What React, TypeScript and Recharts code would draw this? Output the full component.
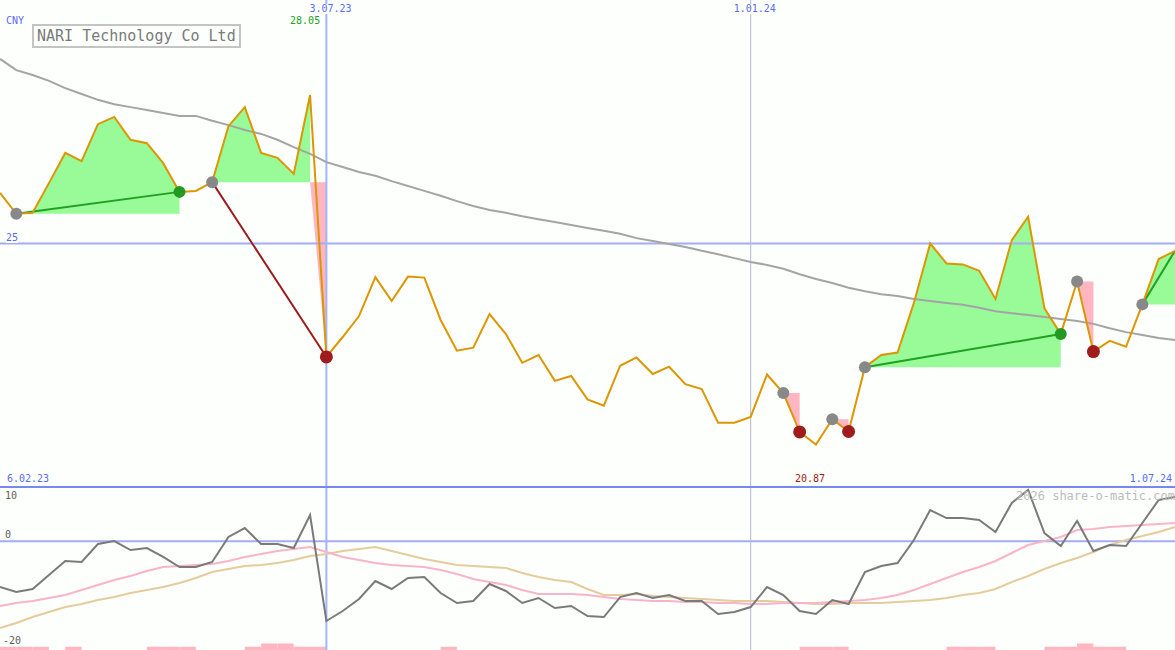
import { Area, Bar, ComposedChart, Line, ReferenceLine, XAxis, YAxis } from 'recharts';

// weekly closes, CNY
const price = [
  26.04, 25.61, 25.63, 26.24, 26.86, 26.69, 27.45, 27.6, 27.13, 27.06,
  26.65, 26.06, 26.08, 26.26, 27.41, 27.8, 26.86, 26.76, 26.43, 28.05,
  22.67, 23.08, 23.51, 24.31, 23.82, 24.32, 24.3, 23.43, 22.8, 22.86,
  23.55, 23.14, 22.55, 22.71, 22.18, 22.28, 21.8, 21.67, 22.49, 22.66,
  22.32, 22.47, 22.11, 22.01, 21.32, 21.32, 21.44, 22.31, 21.93, 21.13,
  20.87, 21.39, 21.14, 22.46, 22.71, 22.76, 23.78, 25.0, 24.59, 24.57,
  24.44, 23.86, 25.07, 25.55, 23.67, 23.14, 24.22, 22.78, 23.0, 22.88,
  23.75, 24.68, 24.85,
];

// long moving average
const average = [
  28.79, 28.56, 28.46, 28.34, 28.19, 28.07, 27.95, 27.86, 27.8, 27.74,
  27.68, 27.62, 27.62, 27.52, 27.43, 27.33, 27.25, 27.13, 26.98, 26.84,
  26.67, 26.57, 26.47, 26.39, 26.28, 26.18, 26.08, 25.98, 25.87, 25.77,
  25.69, 25.63, 25.56, 25.5, 25.44, 25.38, 25.32, 25.26, 25.2, 25.11,
  25.05, 24.99, 24.93, 24.85, 24.78, 24.7, 24.62, 24.56, 24.48, 24.37,
  24.27, 24.19, 24.09, 24.02, 23.96, 23.92, 23.86, 23.82, 23.78, 23.74,
  23.68, 23.61, 23.57, 23.53, 23.49, 23.45, 23.41, 23.35, 23.26, 23.18,
  23.12, 23.06, 23.02,
];

// lower panel
const oscillator = [
  -8.41, -9.33, -8.77, -6.2, -3.62, -3.8, -0.49, 0.06, -1.6, -1.23,
  -2.88, -4.72, -4.72, -3.8, 0.8, 2.45, -0.49, -0.49, -1.23, 4.85,
  -14.66, -12.82, -10.61, -7.3, -8.77, -6.75, -6.57, -9.51, -11.35, -10.98,
  -7.85, -9.14, -11.35, -10.43, -12.27, -11.9, -13.74, -13.93, -10.25, -9.51,
  -10.43, -9.88, -10.98, -10.98, -13.38, -13.01, -12.09, -8.41, -9.88, -12.82,
  -13.38, -10.8, -11.54, -5.65, -4.54, -3.99, 0.25, 5.77, 4.29, 4.29,
  3.93, 1.72, 7.06, 9.45, 1.53, -0.86, 3.74, -1.78, -0.68, -0.86,
  3.37, 7.61, 8.16,
];

const signalFast = [
  -11.9, -11.35, -10.98, -10.43, -9.88, -8.96, -8.04, -7.12, -6.38, -5.46,
  -4.72, -4.54, -4.36, -4.17, -3.62, -2.88, -2.33, -1.78, -1.41, -1.04,
  -1.96, -2.88, -3.44, -3.99, -4.36, -4.54, -4.72, -5.28, -6.01, -6.93,
  -7.49, -8.04, -8.96, -9.7, -9.7, -9.7, -9.88, -10.25, -10.61, -10.8,
  -10.98, -10.98, -11.17, -11.17, -11.35, -11.35, -11.54, -11.54, -11.35, -11.35,
  -11.35, -11.17, -10.98, -10.8, -10.43, -9.88, -8.96, -7.85, -6.75, -5.65,
  -4.72, -3.62, -2.15, -0.68, 0.06, 0.8, 2.09, 2.27, 2.64, 2.82,
  3.01, 3.19, 3.37,
];

const signalSlow = [
  -15.95, -15.03, -13.93, -13.01, -12.09, -11.54, -10.8, -10.25, -9.51, -8.96,
  -8.41, -7.67, -6.75, -5.65, -5.09, -4.54, -4.36, -3.99, -3.44, -2.7,
  -2.33, -1.78, -1.41, -1.04, -1.78, -2.52, -3.25, -3.8, -4.36, -4.54,
  -4.72, -4.91, -5.83, -6.57, -7.12, -7.49, -8.77, -9.88, -9.88, -9.7,
  -10.06, -10.25, -10.43, -10.61, -10.8, -10.98, -10.98, -10.98, -11.17, -11.35,
  -11.54, -11.54, -11.35, -11.35, -11.35, -11.17, -10.98, -10.8, -10.43, -9.88,
  -9.51, -8.77, -7.49, -6.38, -5.09, -3.99, -3.07, -1.96, -0.68, 0.24,
  0.98, 1.72, 2.64,
];

const flagWeeks = [0, 1, 2, 4, 9, 10, 11, 15, 16, 17, 18, 19, 27, 49, 50, 51, 58, 59, 60, 64, 65, 66, 67, 68];
const flagTall = [16, 17, 66];

// open / close week of each signalled trade
const trades = [
  { open: 1, close: 11, live: false },
  { open: 13, close: 20, live: false },
  { open: 48, close: 49, live: false },
  { open: 51, close: 52, live: false },
  { open: 53, close: 65, live: false },
  { open: 66, close: 67, live: false },
  { open: 70, close: 72, live: true },
];

const dateMarks = [
  { week: 20, label: '3.07.23' },
  { week: 46, label: '1.01.24' },
];

const W = 1175;
const TOP_H = 487;
const BOT_H = 163;
const LAST = price.length - 1;
const BG = '#fcfffc';
const MONO = '"DejaVu Sans Mono", monospace';
const BLUE_TEXT = '#5c6cf0';

const xOf = (i: number) => (i * W) / LAST;

const rows: Record<string, any>[] = price.map((p, i) => ({
  i,
  price: p,
  average: average[i],
  oscillator: oscillator[i],
  fast: signalFast[i],
  slow: signalSlow[i],
  flag: flagWeeks.includes(i) ? (flagTall.includes(i) ? 2 : 1) : null,
  gain: null,
  loss: null,
}));

trades.forEach((t, k) => {
  const entry = price[t.open];
  const won = price[t.close] >= entry;
  const lastUp = won ? t.close : t.close - 1;
  if (lastUp > t.open) {
    for (let i = t.open; i <= lastUp; i++) rows[i].gain = [entry, Math.max(price[i], entry)];
  }
  if (!won) {
    for (let i = t.close - 1; i <= t.close; i++) rows[i].loss = [Math.min(price[i], entry), entry];
  }
  rows[t.open].entryMark = entry;
  if (!t.live) rows[t.close][won ? 'winMark' : 'lossMark'] = price[t.close];
  if (t.close - t.open > 1) {
    rows[t.open][`trade${k}`] = entry;
    rows[t.close][`trade${k}`] = price[t.close];
  }
});

const maxIdx = price.indexOf(Math.max(...price));
const minIdx = price.indexOf(Math.min(...price));

const Label = ({ text, left, top, color, size = 10, right }: any) => (
  <div
    style={{
      position: 'absolute',
      left,
      right,
      top,
      color,
      fontSize: size,
      lineHeight: 1,
      fontFamily: MONO,
      whiteSpace: 'pre',
      background: BG,
    }}
  >
    {text}
  </div>
);

const marker = (fill: string, r: number) => ({ r, fill, stroke: 'none' });

export default function App() {
  return (
    <div style={{ position: 'absolute', left: 0, top: 0, width: W, height: TOP_H + BOT_H, background: BG, overflow: 'hidden' }}>
      <div style={{ position: 'absolute', left: 0, top: 0 }}>
        <ComposedChart width={W} height={TOP_H} data={rows} margin={{ top: 0, right: 0, bottom: 0, left: 0 }}>
          <XAxis type="number" dataKey="i" domain={[0, LAST]} allowDataOverflow hide />
          <YAxis type="number" domain={[20, 30]} allowDataOverflow hide />
          <Area dataKey="gain" type="linear" stroke="none" fill="#98fb98" fillOpacity={1} isAnimationActive={false} activeDot={false} />
          <Area dataKey="loss" type="linear" stroke="none" fill="#ffb6c1" fillOpacity={1} isAnimationActive={false} activeDot={false} />
          <ReferenceLine y={25} stroke="#a4acf4" strokeWidth={2} />
          <ReferenceLine x={dateMarks[0].week} stroke="#a4b4f6" strokeWidth={2} />
          <ReferenceLine x={dateMarks[1].week} stroke="#b4b8d0" strokeWidth={1} />
          <Line dataKey="average" type="linear" stroke="#a4a4a4" strokeWidth={2} dot={false} activeDot={false} isAnimationActive={false} />
          {trades.map((t, k) =>
            t.close - t.open > 1 ? (
              <Line
                key={k}
                dataKey={`trade${k}`}
                type="linear"
                connectNulls
                stroke={price[t.close] >= price[t.open] ? '#22a022' : '#9a1c1c'}
                strokeWidth={2}
                dot={false}
                activeDot={false}
                isAnimationActive={false}
              />
            ) : null,
          )}
          <Line dataKey="price" type="linear" stroke="#dc9600" strokeWidth={2} dot={false} activeDot={false} isAnimationActive={false} />
          <Line dataKey="entryMark" stroke="none" dot={marker('#888888', 6)} activeDot={false} isAnimationActive={false} />
          <Line dataKey="winMark" stroke="none" dot={marker('#229922', 6)} activeDot={false} isAnimationActive={false} />
          <Line dataKey="lossMark" stroke="none" dot={marker('#a01c1c', 6.5)} activeDot={false} isAnimationActive={false} />
        </ComposedChart>
      </div>

      <div style={{ position: 'absolute', left: 0, top: TOP_H }}>
        <ComposedChart width={W} height={BOT_H} data={rows} margin={{ top: 0, right: 0, bottom: 0, left: 0 }}>
          <XAxis type="number" dataKey="i" domain={[0, LAST]} allowDataOverflow hide />
          <XAxis xAxisId="flags" type="number" dataKey="i" domain={[-0.5, LAST - 0.5]} allowDataOverflow hide />
          <YAxis type="number" domain={[-20, 10]} allowDataOverflow hide />
          <YAxis yAxisId="flags" type="number" domain={[0, 50]} allowDataOverflow hide />
          <Bar dataKey="flag" xAxisId="flags" yAxisId="flags" fill="#ffb6c1" barSize={16.3} isAnimationActive={false} />
          <ReferenceLine y={0} stroke="#a4acf4" strokeWidth={2} />
          <ReferenceLine x={dateMarks[0].week} stroke="#a4b4f6" strokeWidth={2} />
          <ReferenceLine x={dateMarks[1].week} stroke="#b4b8d0" strokeWidth={1} />
          <Line dataKey="slow" type="linear" stroke="#e4cc9c" strokeWidth={2} dot={false} activeDot={false} isAnimationActive={false} />
          <Line dataKey="fast" type="linear" stroke="#f8b4c8" strokeWidth={2} dot={false} activeDot={false} isAnimationActive={false} />
          <Line dataKey="oscillator" type="linear" stroke="#7a7a7a" strokeWidth={2} dot={false} activeDot={false} isAnimationActive={false} />
        </ComposedChart>
      </div>

      <div style={{ position: 'absolute', left: 0, top: TOP_H - 1, width: W, height: 2, background: '#7888ee' }} />

      <div
        style={{
          position: 'absolute',
          left: 32,
          top: 24,
          padding: '2px 3px',
          border: '2px solid #c4c4c4',
          color: '#7a7a7a',
          fontFamily: MONO,
          fontSize: 15,
          lineHeight: '16px',
          background: BG,
          whiteSpace: 'pre',
        }}
      >
        NARI Technology Co Ltd
      </div>

      <Label text="CNY" left={6} top={16} color={BLUE_TEXT} />
      {dateMarks.map((d) => (
        <Label key={d.label} text={d.label} left={xOf(d.week) - 17} top={4} color={BLUE_TEXT} />
      ))}
      <Label text={price[maxIdx].toFixed(2)} left={xOf(maxIdx) - 20} top={16} color="#22a022" />
      <Label text="25" left={6} top={233} color={BLUE_TEXT} />
      <Label text="6.02.23" left={7} top={474} color={BLUE_TEXT} />
      <Label text={price[minIdx].toFixed(2)} left={xOf(minIdx) - 21} top={474} color="#9a1c1c" />
      <Label text="1.07.24" right={3} top={474} color={BLUE_TEXT} />
      <Label text="10" left={5} top={491} color="#606060" />
      <Label text="0" left={5} top={530} color="#606060" />
      <Label text="-20" left={3} top={636} color="#606060" />
      <div
        style={{
          position: 'absolute',
          right: 0,
          top: 490,
          color: '#bcbcbc',
          fontFamily: MONO,
          fontSize: 12,
          lineHeight: 1,
          whiteSpace: 'pre',
        }}
      >
        2026 share-o-matic.com
      </div>
    </div>
  );
}
